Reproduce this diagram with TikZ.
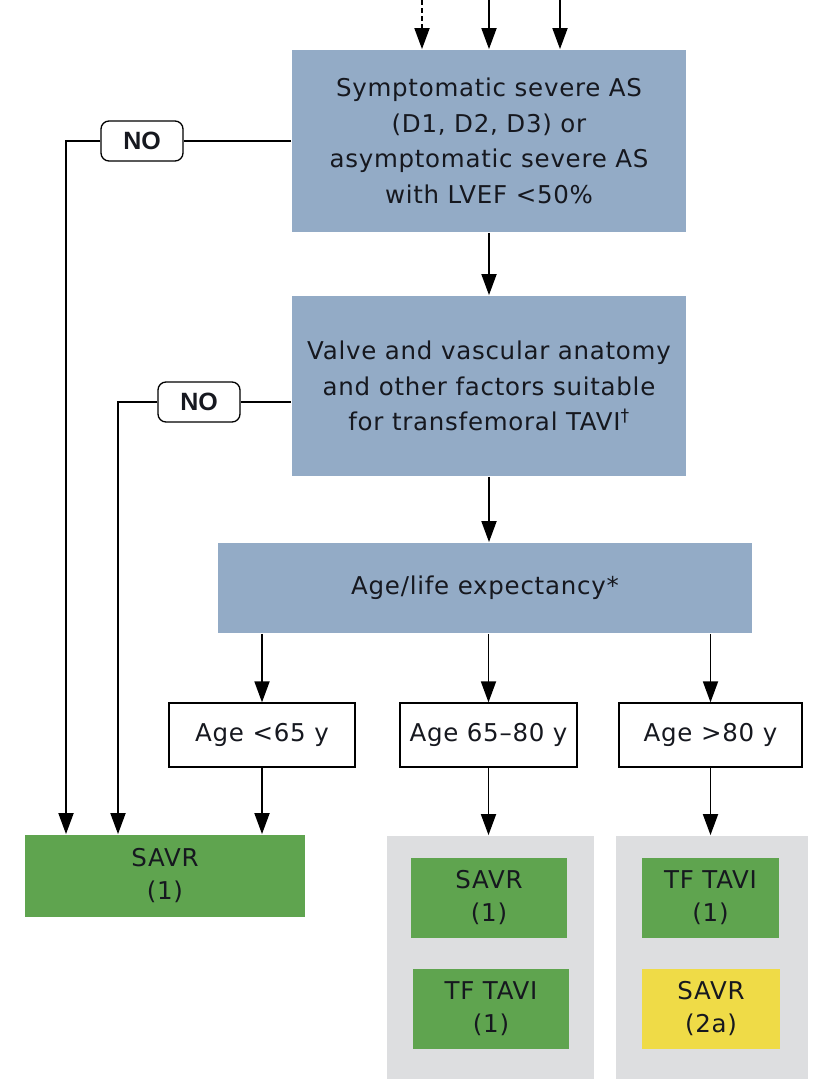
\documentclass[tikz,border=0pt]{standalone}
\usepackage{fontspec}
\setmainfont{DejaVu Sans}[LetterSpace=3]
\newfontfamily\nofont{Liberation Sans}
\usetikzlibrary{arrows.meta}
\definecolor{stepblue}{HTML}{93ABC6}
\definecolor{recgreen}{HTML}{5FA44F}
\definecolor{recyellow}{HTML}{EFDB47}
\definecolor{panelgray}{HTML}{DDDEE0}
\definecolor{inktext}{HTML}{16181F}

\begin{document}
\begin{tikzpicture}[x=1pt,y=-1pt,font=\fontsize{24.5}{35.5}\selectfont,text=inktext,
  >={Triangle[length=21pt,width=15pt]},line width=1.8pt,
  bluebox/.style={fill=stepblue,align=center,inner sep=0pt},
  agebox/.style={draw,line width=1.3pt,fill=white,minimum height=64pt,inner sep=0pt},
  nobox/.style={draw,line width=1.3pt,rounded corners=8pt,fill=white,minimum width=82pt,minimum height=40pt,font=\nofont\fontsize{25}{25}\selectfont\bfseries},
  recbox/.style={align=center,minimum height=80pt,inner sep=0pt,font=\fontsize{24.5}{33}\selectfont},
  panelbox/.style={fill=panelgray,minimum height=243pt,inner sep=0pt}]
\useasboundingbox (0,0) rectangle (813,1079);
\node[bluebox,minimum width=394pt,minimum height=182pt] (sym) at (489,141) {Symptomatic severe AS\\(D1, D2, D3) or\\asymptomatic severe AS\\with LVEF <50\%};
\node[bluebox,minimum width=394pt,minimum height=180pt] (anat) at (489,386) {Valve and vascular anatomy\\and other factors suitable\\for transfemoral TAVI\textsuperscript{†}};
\node[bluebox,minimum width=534pt,minimum height=90pt] (life) at (485,588) {Age/life expectancy*};
\node[agebox,minimum width=186pt] (young) at (262,735) {Age <65 y};
\node[agebox,minimum width=177pt] (mid) at (488.5,735) {Age 65–80 y};
\node[agebox,minimum width=183pt] (old) at (710.5,735) {Age >80 y};
\node[recbox,fill=recgreen,minimum width=280pt,minimum height=82pt] (savr) at (165,876) {SAVR\\(1)};
\node[panelbox,minimum width=207pt] (midpan) at (490.5,957.5) {};
\node[panelbox,minimum width=192pt] (oldpan) at (712,957.5) {};
\node[recbox,fill=recgreen,minimum width=156pt] (midsavr) at (489,898) {SAVR\\(1)};
\node[recbox,fill=recgreen,minimum width=156pt] (midtavi) at (491,1009) {TF TAVI\\(1)};
\node[recbox,fill=recgreen,minimum width=137pt] (oldtavi) at (710.5,898) {TF TAVI\\(1)};
\node[recbox,fill=recyellow,minimum width=138pt] (oldsavr) at (711,1009) {SAVR\\(2a)};
\node[nobox] (no1) at (142,141) {NO};
\node[nobox] (no2) at (199,402) {NO};
\coordinate (in1) at (422,0);
\coordinate (in2) at (489,0);
\coordinate (in3) at (560,0);
\coordinate (turn1) at (66,141);
\coordinate (turn2) at (118,402);
\draw[->,dash pattern=on 5pt off 3pt] (in1) -- (in1 |- sym.north);
\draw[->] (in2) -- (in2 |- sym.north);
\draw[->] (in3) -- (in3 |- sym.north);
\draw[->] (sym) -- (anat);
\draw[->] (anat) -- (anat |- life.north);
\draw (sym.west) -- (no1.east);
\draw[->] (no1.west) -- (turn1) -- (turn1 |- savr.north);
\draw (anat.west |- no2) -- (no2.east);
\draw[->] (no2.west) -- (turn2) -- (turn2 |- savr.north);
\draw[->] (young |- life.south) -- (young.north);
\draw[->] (mid |- life.south) -- (mid.north);
\draw[->] (old |- life.south) -- (old.north);
\draw[->] (young.south) -- (young |- savr.north);
\draw[->] (mid.south) -- (mid |- midpan.north);
\draw[->] (old.south) -- (old |- oldpan.north);
\end{tikzpicture}
\end{document}
